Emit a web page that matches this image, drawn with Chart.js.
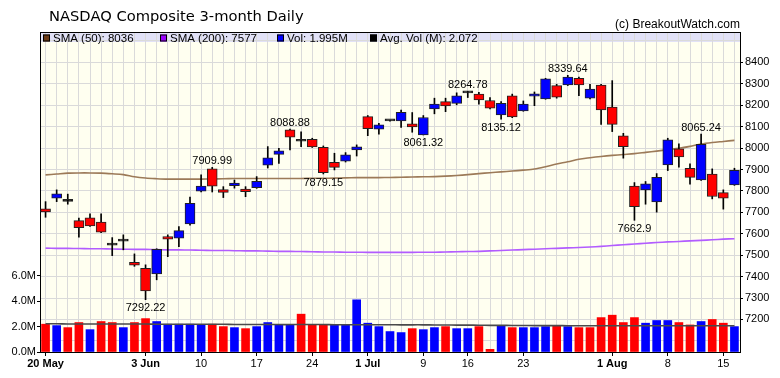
<!DOCTYPE html>
<html>
<head>
<meta charset="utf-8">
<script src="https://cdn.jsdelivr.net/npm/chart.js@4.4.0/dist/chart.umd.min.js"></script>
<style>
html,body{margin:0;padding:0;background:#fff;}
#wrap{width:780px;height:378px;position:relative;}
</style>
</head>
<body>
<div id="wrap"><canvas id="c" width="780" height="378"></canvas></div>
<script>
// ---- Data ----
const dates = [
 "2019-05-20","2019-05-21","2019-05-22","2019-05-23","2019-05-24","2019-05-28","2019-05-29","2019-05-30","2019-05-31",
 "2019-06-03","2019-06-04","2019-06-05","2019-06-06","2019-06-07","2019-06-10","2019-06-11","2019-06-12","2019-06-13","2019-06-14",
 "2019-06-17","2019-06-18","2019-06-19","2019-06-20","2019-06-21","2019-06-24","2019-06-25","2019-06-26","2019-06-27","2019-06-28",
 "2019-07-01","2019-07-02","2019-07-03","2019-07-05","2019-07-08","2019-07-09","2019-07-10","2019-07-11","2019-07-12",
 "2019-07-15","2019-07-16","2019-07-17","2019-07-18","2019-07-19","2019-07-22","2019-07-23","2019-07-24","2019-07-25","2019-07-26",
 "2019-07-29","2019-07-30","2019-07-31","2019-08-01","2019-08-02","2019-08-05","2019-08-06","2019-08-07","2019-08-08","2019-08-09",
 "2019-08-12","2019-08-13","2019-08-14","2019-08-15","2019-08-16"
];
const tickLabels = [
 "20 May","","","","","","","","",
 "3 Jun","","","","","10","","","","",
 "17","","","","","24","","","","",
 "1 Jul","","","","","9","","","",
 "16","","","","","23","","","","",
 "","","","1 Aug","","","","","8","",
 "","","","15",""
];
const opens  = [7716,7766,7752,7661,7674,7654,7550,7566,7467,7439,7413,7587,7579,7646,7799,7903,7806,7825,7809,7815,7920,7971,8085,8036,8041,8004,7934,7939,7992,8147,8088,8127,8127,8113,8062,8183,8217,8209,8260,8252,8222,8155,8244,8174,8242,8230,8292,8295,8326,8233,8294,8191,8057,7823,7805,7749,7921,7996,7906,7851,7879,7792,7828];
const highs  = [7750,7805,7785,7673,7693,7693,7582,7595,7506,7455,7530,7595,7633,7771,7875,7909.99,7820,7851,7820,7867,8007,7999,8088.88,8076,8046,8010,7976,7979,8015,8152,8116,8130,8178,8166,8152,8233,8233,8258,8264.78,8260,8236,8217,8252,8220,8262,8326,8298,8339.64,8331,8298,8298,8315,8069,7839,7844,7881,8046,8020,7926,8065.24,7903,7805,7906];
const lows   = [7677,7750,7738,7584,7634,7605,7498,7525,7448,7292.22,7385,7493,7540,7640,7795,7795,7769,7813,7773,7812,7907,7929,7992,8007,8003,7879.15,7898,7935,7963,8058,8065,8126,8096,8074,8061.32,8160,8170,8202,8236,8205,8183,8135.12,8142,8172,8198,8228,8233,8292,8245,8230,8111,8077,7953,7662.9,7738,7701,7895,7911,7831,7849,7763,7715,7826];
const closes = [7702,7786,7751,7628,7637,7607,7547,7568,7453,7333,7527,7575,7615,7742,7823,7822,7793,7837,7797,7845,7954,7987,8051,8032,8006,7885,7910,7968,8006,8091,8109,8128,8167,8099,8143,8205,8197,8244,8258,8225,8186,8209,8146,8205,8253,8323,8238,8331,8295,8275,8178,8111,8007,7726,7833,7863,8039,7959,7863,8017,7774,7766,7896];
const prevClose = 7816;
const volumes = [2.19,2.08,1.92,2.32,1.76,2.40,2.32,1.92,2.32,2.63,2.40,2.19,2.19,2.19,2.13,2.19,2.00,1.92,1.84,2.00,2.32,2.13,2.13,2.98,2.13,2.13,2.13,2.13,4.11,2.27,2.00,1.61,1.53,1.84,1.76,1.92,2.00,1.84,1.84,2.00,0.21,2.08,1.92,1.92,1.92,2.00,2.08,2.00,1.92,1.92,2.71,2.90,2.32,2.71,2.27,2.48,2.48,2.32,2.13,2.40,2.56,2.27,2.00];
const avgVol = [2.22,2.22,2.21,2.21,2.21,2.21,2.20,2.20,2.20,2.20,2.19,2.19,2.19,2.18,2.18,2.18,2.18,2.17,2.17,2.17,2.17,2.16,2.16,2.16,2.16,2.16,2.15,2.15,2.15,2.15,2.15,2.15,2.14,2.14,2.14,2.13,2.13,2.12,2.12,2.11,2.10,2.10,2.09,2.09,2.08,2.08,2.08,2.07,2.07,2.07,2.07,2.07,2.07,2.07,2.07,2.07,2.07,2.07,2.07,2.07,2.07,2.07,2.072];
const sma50 = [7875,7879,7883,7884,7884,7883,7880,7876,7866,7860,7857,7855,7855,7855,7855,7856,7857,7858,7858,7858,7858,7858,7858,7858,7859,7859,7860,7861,7862,7862,7862,7863,7864,7865,7866,7867,7869,7872,7876,7881,7885,7889,7893,7897,7902,7913,7926,7936,7948,7955,7961,7966,7970,7974,7980,7986,7993,7999,8008,8019,8026,8031,8036];
const sma200 = [7533,7532,7532,7531,7530,7530,7529,7528,7527,7527,7526,7525,7525,7524,7523,7522,7522,7521,7520,7520,7519,7518,7518,7517,7516,7515,7515,7514,7514,7513,7513,7513,7513,7513,7514,7514,7515,7516,7517,7518,7520,7522,7524,7526,7528,7530,7532,7534,7536,7538,7541,7545,7549,7552,7556,7559,7562,7564,7567,7569,7572,7575,7577];
const annIndex = [9,15,22,25,34,38,41,47,53,59];
const annValue = [7292.22,7909.99,8088.88,7879.15,8061.32,8264.78,8135.12,8339.64,7662.9,8065.24];
const annSide  = ["below","above","above","below","below","above","below","above","below","above"];
const priceGrid = [7100,7200,7300,7400,7500,7600,7700,7800,7900,8000,8100,8200,8300,8400,8500];
const priceLabels = [7200,7300,7400,7500,7600,7700,7800,7900,8000,8100,8200,8300,8400];
const volTicks = [0,2,4,6];
const legendLabels = ["SMA (50): 8036","SMA (200): 7577","Vol: 1.995M","Avg. Vol (M): 2.072"];
const legendColors = ["#6b3a14","#9a00ff","#0000ff","#000000"];
const titleText = "NASDAQ Composite 3-month Daily";
const creditText = "(c) BreakoutWatch.com";

// ---- Styles ----
const UP = "#0000ff", DOWN = "#ff0000";
const FONT = "'Liberation Sans', Arial, sans-serif";
const bodyColors = opens.map((o,i)=> Math.abs(closes[i]-o) < 5 ? "#000000" : (closes[i] >= o ? UP : DOWN));
const volColors = closes.map((c,i)=> c >= (i ? closes[i-1] : prevClose) ? UP : DOWN);

const decor = {
  id: "decor",
  beforeDraw(chart) {
    const {ctx, chartArea: a} = chart;
    ctx.save();
    ctx.fillStyle = "#ffffff";
    ctx.fillRect(0,0,chart.width,chart.height);
    ctx.fillStyle = "#fffff0";
    ctx.fillRect(a.left, a.top, a.right-a.left, a.bottom-a.top);
    ctx.fillStyle = "#e1e1f7";
    ctx.fillRect(a.left, a.top, a.right-a.left, 10);
    ctx.restore();
  },
  afterDraw(chart) {
    const {ctx, chartArea: a, scales} = chart;
    ctx.save();
    ctx.strokeStyle = "#000";
    ctx.lineWidth = 1;
    ctx.beginPath();
    ctx.moveTo(a.left, a.top + 0.5); ctx.lineTo(a.right, a.top + 0.5);
    ctx.stroke();
    ctx.fillStyle = "#000";
    ctx.font = "14.7px 'DejaVu Sans', sans-serif";
    ctx.textAlign = "left"; ctx.textBaseline = "alphabetic";
    ctx.fillText(titleText, 49, 21);
    ctx.font = "12px " + FONT;
    ctx.textAlign = "right";
    ctx.fillText(creditText, 740, 28);
    const lx = [41, 158, 275, 368];
    ctx.font = "11.5px " + FONT;
    ctx.textAlign = "left";
    legendLabels.forEach((t,i)=>{
      ctx.fillStyle = legendColors[i];
      ctx.fillRect(lx[i]+2, a.top+2.5, 7, 7);
      ctx.strokeStyle = "#000";
      ctx.strokeRect(lx[i]+2.5, a.top+3, 6, 6);
      ctx.fillStyle = "#000";
      ctx.fillText(t, lx[i]+12, a.top+9.5);
    });
    const xs = scales.x, ps = scales.price;
    ctx.font = "11px " + FONT;
    ctx.textAlign = "center";
    annIndex.forEach((idx,i)=>{
      const x = xs.getPixelForValue(idx);
      const y = ps.getPixelForValue(annValue[i]);
      if (annSide[i] === "above") { ctx.textBaseline = "alphabetic"; ctx.fillText(String(annValue[i]), x, y - 3); }
      else { ctx.textBaseline = "top"; ctx.fillText(String(annValue[i]), x, y + 3); }
    });
    ctx.restore();
  }
};

const tickFont = {family: FONT, size: 11};
new Chart(document.getElementById("c"), {
  data: {
    labels: dates,
    datasets: [
      {type:"bar", label:"body", data: opens.map((o,i)=>[o, closes[i]]), yAxisID:"price",
       backgroundColor: bodyColors, borderColor:"#222", borderWidth:1, borderSkipped:false,
       barThickness:10, minBarLength:2, grouped:false, order:0},
      {type:"bar", label:"wick", data: lows.map((l,i)=>[l, highs[i]]), yAxisID:"price",
       backgroundColor:"#000", barThickness:1, grouped:false, order:1},
      {type:"line", label:"SMA50", data: sma50, yAxisID:"price", borderColor:"#9c7a58",
       borderWidth:1.6, pointRadius:0, tension:0.3, order:2},
      {type:"line", label:"SMA200", data: sma200, yAxisID:"price", borderColor:"#b25cff",
       borderWidth:1.6, pointRadius:0, tension:0.3, order:2},
      {type:"line", label:"AvgVol", data: avgVol, yAxisID:"vol", borderColor:"#4a4a4a",
       borderWidth:1.6, pointRadius:0, tension:0.3, order:3},
      {type:"bar", label:"Vol", data: volumes, yAxisID:"vol", backgroundColor: volColors,
       barThickness:8, grouped:false, order:4}
    ]
  },
  options: {
    responsive:false, animation:false, devicePixelRatio:1,
    layout:{padding:{top:32, left:0, right:0, bottom:0}},
    plugins:{legend:{display:false}, tooltip:{enabled:false}, title:{display:false}},
    scales:{
      x:{type:"category", offset:true,
         grid:{offset:false, color:"#dadada", lineWidth:1, tickLength:4,
               tickColor: c => tickLabels[c.index] ? "#000" : "rgba(0,0,0,0)"},
         border:{display:true, color:"#000"},
         ticks:{autoSkip:false, maxRotation:0, minRotation:0, padding:1, color:"#000",
                font: c => ({family:FONT, size:11, weight: /[A-Za-z]/.test(tickLabels[c.index]||"") ? "bold" : "normal"}),
                callback:(v,i)=>tickLabels[i]},
         afterFit: s => { s.height = 26; }},
      price:{type:"linear", position:"right", min:7048, max:8542,
         afterBuildTicks: s => { s.ticks = priceGrid.map(v => ({value:v})); },
         grid:{color:"#dadada", lineWidth:1, tickLength:3,
               tickColor: c => (c.tick && priceLabels.includes(c.tick.value)) ? "#000" : "rgba(0,0,0,0)"},
         border:{display:true, color:"#000"},
         ticks:{padding:2, color:"#000", font:tickFont,
                callback: v => priceLabels.includes(v) ? String(v) : ""},
         afterFit: s => { s.width = 40; }},
      vol:{type:"linear", position:"left", min:0, max:25.2,
         afterBuildTicks: s => { s.ticks = volTicks.map(v => ({value:v})); },
         grid:{drawOnChartArea:false, tickLength:3, tickColor:"#000"},
         border:{display:true, color:"#000"},
         ticks:{padding:1, color:"#000", font:tickFont,
                callback: v => v.toFixed(1)+"M"},
         afterFit: s => { s.width = 40; }}
    }
  },
  plugins:[decor]
});
</script>
</body>
</html>
